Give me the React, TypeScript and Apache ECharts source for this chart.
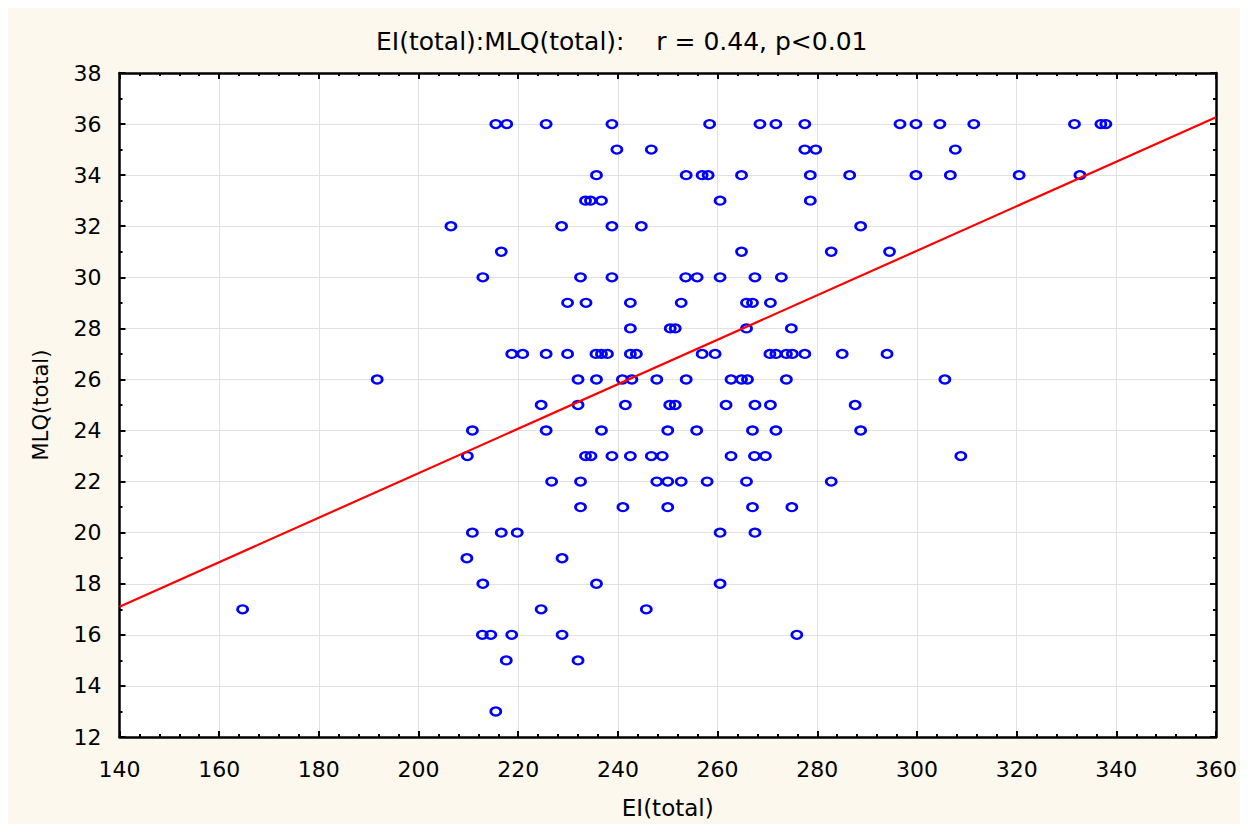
import React, { useEffect, useRef } from "react";
import * as echarts from "echarts";

// ---- texts ----
const chartTitle = "EI(total):MLQ(total):    r = 0.44, p<0.01";
const xAxisName = "EI(total)";
const yAxisName = "MLQ(total)";

// ---- axis ranges ----
const xMin = 140;
const xMax = 360;
const xStep = 20;
const yMin = 12;
const yMax = 38;
const yStep = 2;

// ---- fitted regression line ----
const regIntercept = 4.91;
const regSlope = 0.0871;

// ---- data: EI(total) and MLQ(total), listed row by row ----
const eiTotal = [
  215.5, 217.7, 225.6, 238.8, 258.4, 268.5, 271.7, 277.5, 296.6, 299.8, 304.6, 311.4, 331.6, 336.9, 337.9,
  239.8, 246.7, 277.5, 279.7, 307.7,
  235.7, 253.7, 256.9, 258.1, 264.8, 278.6, 286.5, 299.8, 306.7, 320.5, 332.7,
  233.5, 234.5, 236.7, 260.5, 278.6,
  206.5, 228.7, 238.8, 244.7, 288.7,
  216.6, 264.8, 282.8, 294.5,
  212.9, 232.5, 238.8, 253.6, 255.9, 260.5, 267.5, 272.8,
  229.9, 233.6, 242.5, 252.7, 265.8, 267.0, 270.6,
  242.5, 250.5, 251.5, 265.8, 274.8,
  218.7, 220.9, 225.6, 229.9, 235.6, 236.7, 237.9, 242.5, 243.7, 256.9, 259.5, 270.5, 271.7, 273.8, 275.0, 277.5, 285.0, 294.0,
  191.7, 232.0, 235.7, 240.9, 242.8, 247.8, 253.7, 262.7, 264.8, 266.0, 273.8, 305.6,
  224.6, 232.0, 241.5, 250.4, 251.5, 261.7, 267.5, 270.6, 287.6,
  210.8, 225.6, 236.7, 250.0, 255.8, 267.0, 271.7, 288.7,
  209.8, 233.5, 234.6, 238.8, 242.5, 246.7, 248.9, 262.7, 267.4, 269.6, 308.8,
  226.7, 232.5, 247.8, 250.0, 252.7, 257.9, 265.8, 282.8,
  232.5, 241.0, 250.0, 267.0, 274.9,
  210.8, 216.6, 219.8, 260.5, 267.5,
  209.7, 228.8,
  212.9, 235.7, 260.5,
  164.7, 224.6, 245.7,
  212.8, 214.5, 218.7, 228.8, 275.9,
  217.6, 232.0,
  215.5,
];

const mlqTotal = [
  36, 36, 36, 36, 36, 36, 36, 36, 36, 36, 36, 36, 36, 36, 36,
  35, 35, 35, 35, 35,
  34, 34, 34, 34, 34, 34, 34, 34, 34, 34, 34,
  33, 33, 33, 33, 33,
  32, 32, 32, 32, 32,
  31, 31, 31, 31,
  30, 30, 30, 30, 30, 30, 30, 30,
  29, 29, 29, 29, 29, 29, 29,
  28, 28, 28, 28, 28,
  27, 27, 27, 27, 27, 27, 27, 27, 27, 27, 27, 27, 27, 27, 27, 27, 27, 27,
  26, 26, 26, 26, 26, 26, 26, 26, 26, 26, 26, 26,
  25, 25, 25, 25, 25, 25, 25, 25, 25,
  24, 24, 24, 24, 24, 24, 24, 24,
  23, 23, 23, 23, 23, 23, 23, 23, 23, 23, 23,
  22, 22, 22, 22, 22, 22, 22, 22,
  21, 21, 21, 21, 21,
  20, 20, 20, 20, 20,
  19, 19,
  18, 18, 18,
  17, 17, 17,
  16, 16, 16, 16, 16,
  15, 15,
  13,
];

const FONT = "DejaVu Sans";
const axisColor = "#000000";
const gridColor = "#e2e2e2";

export default function App() {
  const ref = useRef<HTMLDivElement>(null);

  useEffect(() => {
    if (!ref.current) return;
    const chart = echarts.init(ref.current, undefined, { renderer: "svg" });

    const points = eiTotal.map((x, i) => [x, mlqTotal[i]]);
    const fitLine = [
      [xMin, regIntercept + regSlope * xMin],
      [xMax, regIntercept + regSlope * xMax],
    ];

    const baseX = {
      type: "value" as const,
      min: xMin,
      max: xMax,
      interval: xStep,
      axisLine: { show: true, onZero: false, lineStyle: { color: axisColor, width: 2.5 } },
      axisTick: { show: true, inside: true, length: 6, lineStyle: { color: axisColor, width: 2 } },
      minorTick: { show: true, splitNumber: 5, length: 3, lineStyle: { color: axisColor, width: 2 } },
    };
    const baseY = {
      type: "value" as const,
      min: yMin,
      max: yMax,
      interval: yStep,
      axisLine: { show: true, onZero: false, lineStyle: { color: axisColor, width: 2.5 } },
      axisTick: { show: true, inside: true, length: 6, lineStyle: { color: axisColor, width: 2 } },
      minorTick: { show: true, splitNumber: 2, length: 3, lineStyle: { color: axisColor, width: 2 } },
    };

    chart.setOption({
      animation: false,
      backgroundColor: "transparent",
      title: {
        text: chartTitle,
        left: 368,
        top: 21,
        padding: 0,
        textStyle: {
          fontFamily: FONT,
          fontSize: 25,
          fontWeight: "normal",
          color: "#000",
          lineHeight: 25,
        },
      },
      grid: {
        left: 111.5,
        right: 20,
        top: 65,
        bottom: 86.4,
        show: true,
        backgroundColor: "#ffffff",
        borderWidth: 0,
      },
      xAxis: [
        {
          ...baseX,
          position: "bottom",
          name: xAxisName,
          nameLocation: "middle",
          nameGap: 59,
          nameTextStyle: { fontFamily: FONT, fontSize: 23, color: "#000" },
          axisLabel: { fontFamily: FONT, fontSize: 22, color: "#000", margin: 21 },
          splitLine: { show: true, lineStyle: { color: gridColor, width: 1 } },
        },
        {
          ...baseX,
          position: "top",
          axisLabel: { show: false },
          splitLine: { show: false },
        },
      ],
      yAxis: [
        {
          ...baseY,
          position: "left",
          name: yAxisName,
          nameLocation: "middle",
          nameGap: 68,
          nameRotate: 90,
          nameTextStyle: { fontFamily: FONT, fontSize: 21, color: "#000" },
          axisLabel: { fontFamily: FONT, fontSize: 22, color: "#000", margin: 18 },
          splitLine: { show: true, lineStyle: { color: gridColor, width: 1 } },
        },
        {
          ...baseY,
          position: "right",
          axisLabel: { show: false },
          splitLine: { show: false },
        },
      ],
      series: [
        {
          type: "scatter",
          xAxisIndex: 0,
          yAxisIndex: 0,
          data: points,
          symbol: "circle",
          symbolSize: [10, 8],
          itemStyle: {
            color: "rgba(255,255,255,0)",
            borderColor: "#0000ff",
            borderWidth: 2.5,
            opacity: 1,
          },
          z: 3,
        },
        {
          type: "line",
          xAxisIndex: 0,
          yAxisIndex: 0,
          data: fitLine,
          showSymbol: false,
          symbol: "none",
          lineStyle: { color: "#ff0000", width: 2.2 },
          z: 4,
          silent: true,
        },
      ],
    });

    return () => chart.dispose();
  }, []);

  return (
    <div
      ref={ref}
      style={{ width: 1232, height: 816, background: "#fdf8ee" }}
    />
  );
}
